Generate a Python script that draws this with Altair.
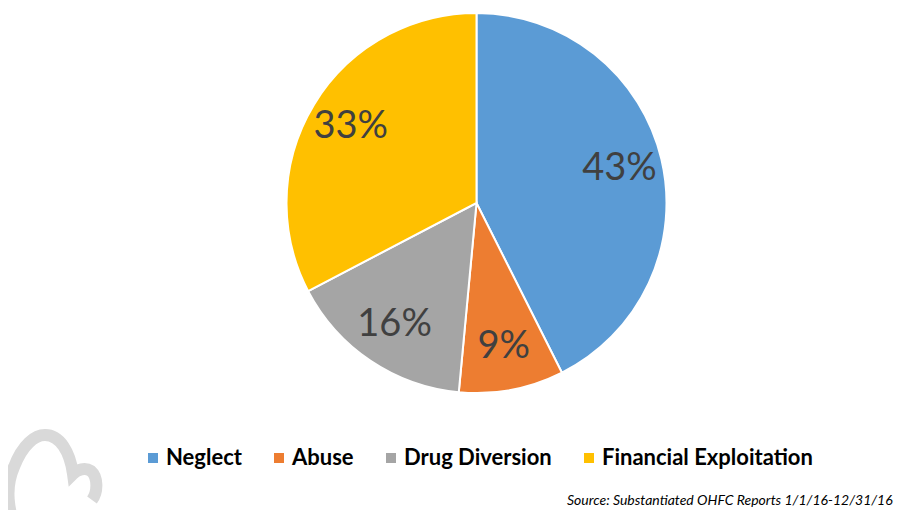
import altair as alt
import pandas as pd

categories = ["Neglect", "Abuse", "Drug Diversion", "Financial Exploitation"]
percents = [43, 9, 16, 33]
colors = ["#5B9BD5", "#ED7D31", "#A5A5A5", "#FFC000"]
source_note = "Source:  Substantiated OHFC Reports 1/1/16-12/31/16"

df = pd.DataFrame({
    "category": categories,
    "pct": percents,
    "order": list(range(len(categories))),
    "label": [f"{p}%" for p in percents],
})

cx, cy = 468.5, 195

base = alt.Chart(df).encode(
    theta=alt.Theta("pct:Q", stack=True),
    order=alt.Order("order:Q"),
)

pie = base.mark_arc(outerRadius=190, stroke="white", strokeWidth=2).encode(
    x=alt.value(cx),
    y=alt.value(cy),
    color=alt.Color(
        "category:N",
        scale=alt.Scale(domain=categories, range=colors),
        sort=categories,
        legend=alt.Legend(
            title=None,
            orient="none",
            direction="horizontal",
            legendX=134,
            legendY=439,
            symbolType="square",
            symbolSize=100,
            symbolStrokeWidth=0,
            labelFont="Lato",
            labelFontSize=22,
            labelFontWeight="bold",
            labelColor="#000000",
            labelOffset=2,
            columnPadding=26,
            padding=0,
            labelLimit=400,
        ),
    ),
)

labels = base.mark_text(
    radius=147, font="Lato", fontSize=38, color="#404040"
).encode(
    x=alt.value(cx),
    y=alt.value(cy),
    text="label:N",
)

note = alt.Chart(pd.DataFrame({"t": [source_note]})).mark_text(
    align="left", baseline="alphabetic", font="Lato", fontStyle="italic",
    fontSize=14, color="#000000",
).encode(x=alt.value(559), y=alt.value(497), text="t:N")

logo_path = ("M -0.74 1.2 C -0.95 0.8 -1.0 0.3 -0.82 -0.1 "
             "C -0.65 -0.55 -0.4 -0.74 -0.2 -0.74 "
             "C 0.1 -0.74 0.3 -0.4 0.36 0.04 "
             "C 0.45 -0.05 0.6 -0.1 0.72 -0.02 "
             "C 0.86 0.1 0.86 0.4 0.74 0.56")
logo = alt.Chart(pd.DataFrame({"k": [0]})).mark_point(
    shape=logo_path, filled=False, size=10000, strokeWidth=12,
    color="#d9d9d9", opacity=1,
).encode(x=alt.value(47), y=alt.value(464))

chart = alt.layer(logo, pie, labels, note).properties(
    width=894, height=502,
    autosize=alt.AutoSizeParams(type="none"),
    padding=0,
).configure_view(stroke=None)

chart.save("out.html", embed_options={"renderer": "svg", "actions": False})
